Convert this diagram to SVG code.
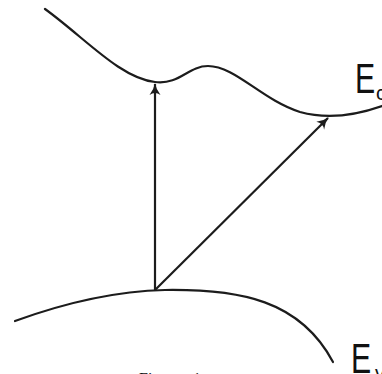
<svg xmlns="http://www.w3.org/2000/svg" width="382" height="374" viewBox="0 0 382 374">
  <defs>
    <style>
      .band { fill: none; stroke: #1c1c1c; stroke-width: 2.2; stroke-linecap: round; }
      .arrow { fill: none; stroke: #1c1c1c; stroke-width: 2.2; }
      .lbl { font-family: "Liberation Sans", Arial, sans-serif; font-size: 42px; fill: #111; }
      .sub { font-family: "Liberation Sans", Arial, sans-serif; font-size: 20px; fill: #111; }
      .cap { font-family: "Liberation Serif", "Times New Roman", serif; font-size: 16px; fill: #111; }
    </style>
    <marker id="head" markerWidth="14" markerHeight="14" viewBox="0 0 14 14" refX="12" refY="7" orient="auto" markerUnits="userSpaceOnUse">
      <path d="M1,1.5 Q7,6 13,7 Q7,8 1,12.5 Q5,7 1,1.5 Z" fill="#1c1c1c"/>
    </marker>
  </defs>
  <rect width="382" height="374" fill="#fff"/>
  <g id="conduction-band">
    <path class="band" d="M45,9 C85,38 120,78 155,82 C180,85 188,66 208,66 C235,66 262,100 300,112 C322,118 348,118 382,106"/>
  </g>
  <g id="valence-band">
    <path class="band" d="M15,321 C70,301 120,291 165,290 C240,289 300,300 333,362"/>
  </g>
  <g id="connectors">
    <line class="arrow" x1="155" y1="290" x2="155" y2="84" marker-end="url(#head)"/>
    <line class="arrow" x1="155" y1="290" x2="328" y2="118" marker-end="url(#head)"/>
  </g>
  <g id="label-ec">
    <text class="lbl" transform="translate(355,93) scale(0.72,1)">E</text>
    <text class="sub" x="376" y="100">c</text>
  </g>
  <g id="label-ev">
    <text class="lbl" transform="translate(351,373) scale(0.72,1)">E</text>
    <text class="sub" x="375" y="380">v</text>
  </g>
  <g id="caption">
    <text class="cap" y="384"><tspan x="139">Fig.</tspan><tspan x="193">1</tspan></text>
  </g>
</svg>
